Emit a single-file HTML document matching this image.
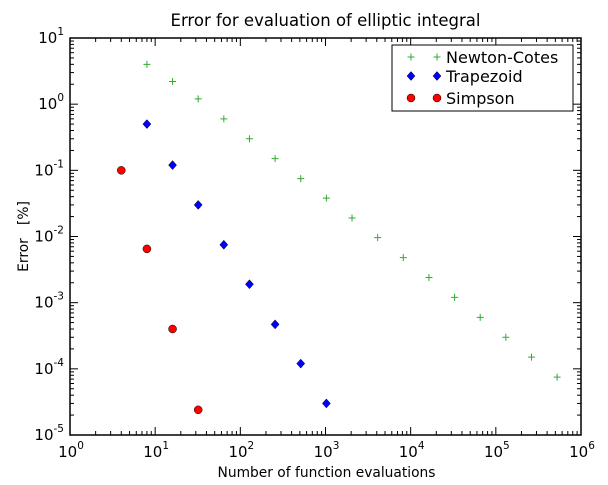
<!DOCTYPE html>
<html><head><meta charset="utf-8"><style>
body{margin:0;background:#fff;}
svg{display:block;font-family:"DejaVu Sans","Liberation Sans",sans-serif;}
</style></head><body>
<svg id="c" width="608" height="485"></svg>
<script>
const ncN=[8,16,32,64,128,256,512,1024,2048,4096,8192,16384,32768,65536,131072,262144,524288];
const ncV=[4,2.2,1.2,0.6,0.3,0.15,0.075,0.038,0.019,0.0096,0.0048,0.0024,0.0012,0.0006,0.0003,0.00015,0.000075];
const trN=[8,16,32,64,128,256,512,1024];
const trV=[0.5,0.12,0.03,0.0075,0.0019,0.00047,0.00012,0.00003];
const siN=[4,8,16,32];
const siV=[0.1,0.0065,0.0004,0.000024];
const xExp=[0,1,2,3,4,5,6];
const yExp=[1,0,-1,-2,-3,-4,-5];
const L=70,R=581,T=38,B=435;
const sx=v=>L+(Math.log10(v)-0)/6*(R-L);
const sy=v=>T+(1-Math.log10(v))/6*(B-T);
const svg=document.getElementById('c');const NS='http://www.w3.org/2000/svg';
function el(t,a,p){const e=document.createElementNS(NS,t);for(const k in a)e.setAttribute(k,a[k]);(p||svg).appendChild(e);return e;}
let t=el('text',{x:(L+R)/2,y:26,'text-anchor':'middle','font-size':16.5});t.textContent='Error for evaluation of elliptic integral';

let fr=el('rect',{x:L,y:T,width:R-L,height:B-T,fill:'none',stroke:'#000','stroke-width':1.5});

for(let d=0;d<6;d++)for(let m=1;m<10;m++){const x=sx(Math.pow(10,d)*m);const len=m==1?8:4;
el('line',{x1:x,x2:x,y1:B,y2:B-len,stroke:'#000'});el('line',{x1:x,x2:x,y1:T,y2:T+len,stroke:'#000'});}
for(let d=-5;d<1;d++)for(let m=1;m<10;m++){const y=sy(Math.pow(10,d)*m);const len=m==1?8:4;
el('line',{x1:L,x2:L+len,y1:y,y2:y,stroke:'#000'});el('line',{x1:R,x2:R-len,y1:y,y2:y,stroke:'#000'});}
xExp.forEach(e=>{const g=el('text',{x:sx(Math.pow(10,e))+1,y:B+22,'text-anchor':'middle','font-size':15});
g.innerHTML='10<tspan dy="-8" font-size="10.5">'+e+'</tspan>';});
yExp.forEach(e=>{const g=el('text',{x:L-6,y:sy(Math.pow(10,e))+5,'text-anchor':'end','font-size':15});
g.innerHTML='10<tspan dy="-8" font-size="10.5">'+e+'</tspan>';});
t=el('text',{x:(L+R)/2+1,y:477,'text-anchor':'middle','font-size':13.8});t.textContent='Number of function evaluations';

t=el('text',{x:0,y:0,'text-anchor':'middle','font-size':13.8,transform:'translate(28,'+(T+B)/2+') rotate(-90)'});t.textContent='Error\u00a0\u00a0\u00a0[%]';

function plus(x,y,g){return el('path',{d:`M${x-3.5},${y}h7M${x},${y-3.5}v7`,stroke:'#3a3',fill:'none'},g);}
function dia(x,y,g){return el('path',{d:`M${x},${y-4.5}L${x+4},${y}L${x},${y+4.5}L${x-4},${y}Z`,fill:'#00f',stroke:'#000','stroke-width':0.5},g);}
function circ(x,y,g){return el('circle',{cx:x,cy:y,r:4,fill:'#f00',stroke:'#000','stroke-width':0.5},g);}
const g1=el('g',{});
ncN.forEach((n,i)=>plus(sx(n),sy(ncV[i]),g1));
const g2=el('g',{});
trN.forEach((n,i)=>dia(sx(n),sy(trV[i]),g2));
const g3=el('g',{});
siN.forEach((n,i)=>circ(sx(n),sy(siV[i]),g3));
const lg=el('g',{});
el('rect',{x:392,y:45,width:181,height:66,fill:'#fff',stroke:'#000'},lg);
[['Newton-Cotes',plus,57],['Trapezoid',dia,76],['Simpson',circ,98]].forEach(([n,f,y])=>{
f(411,y,lg);f(437,y,lg);const tx=el('text',{x:446,y:y+6,'font-size':16},lg);tx.textContent=n;
});
</script>
</body></html>
